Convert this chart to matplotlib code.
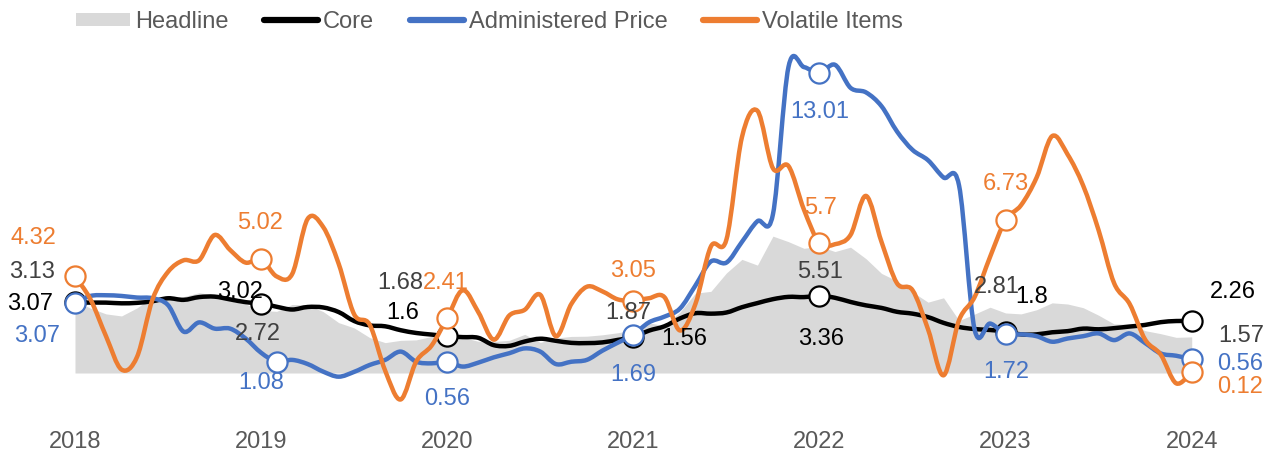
"""
Inflation by component (Headline, Core, Administered Price, Volatile Items), monthly, % yoy.
Writes out.png
"""

import matplotlib
matplotlib.use("Agg")
import matplotlib.pyplot as plt
from matplotlib.lines import Line2D
from matplotlib.patches import Patch, PathPatch
from matplotlib.path import Path

plt.rcParams["font.family"] = ["Liberation Sans", "DejaVu Sans"]

# ---- data (one value per month, first point = "2018" tick) ----
YEAR_LABELS = ["2018", "2019", "2020", "2021", "2022", "2023", "2024"]

headline = [3.13,
            2.82, 2.57, 2.48, 2.83, 3.32, 3.28, 3.32, 3.49, 3.39, 3.13, 3.00, 2.72,
            2.68, 2.98, 2.96, 2.67, 2.19, 1.96, 1.54, 1.32, 1.42, 1.44, 1.59, 1.68,
            1.55, 1.38, 1.37, 1.42, 1.68, 1.33, 1.52, 1.59, 1.60, 1.66, 1.75, 1.87,
            2.18, 2.06, 2.64, 3.47, 3.55, 4.35, 4.94, 4.69, 5.95, 5.71, 5.42, 5.51,
            5.28, 5.47, 4.97, 4.33, 4.00, 3.52, 3.08, 3.27, 2.28, 2.56, 2.86, 2.61,
            2.57, 2.75, 3.05, 3.00, 2.84, 2.51, 2.13, 2.12, 1.84, 1.71, 1.55, 1.57]

core = [3.07,
        3.06, 3.06, 3.03, 3.05, 3.12, 3.25, 3.18, 3.30, 3.32, 3.20, 3.08, 3.02,
        2.88, 2.76, 2.87, 2.85, 2.65, 2.26, 2.07, 2.03, 1.86, 1.74, 1.67, 1.60,
        1.56, 1.53, 1.21, 1.18, 1.37, 1.49, 1.40, 1.31, 1.30, 1.33, 1.44, 1.56,
        1.84, 2.03, 2.37, 2.60, 2.58, 2.63, 2.86, 3.04, 3.21, 3.31, 3.30, 3.36,
        3.27, 3.09, 2.94, 2.83, 2.66, 2.58, 2.43, 2.18, 2.00, 1.91, 1.87, 1.80,
        1.68, 1.68, 1.77, 1.82, 1.93, 1.90, 1.95, 2.02, 2.09, 2.21, 2.26, 2.26]

administered = [3.05,
                3.35, 3.38, 3.35, 3.28, 3.25, 2.95, 1.80, 2.20, 1.93, 1.93, 1.50, 0.88,
                0.49, 0.57, 0.39, 0.06, -0.16, 0.05, 0.35, 0.57, 0.93, 0.49, 0.42, 0.49,
                0.28, 0.45, 0.68, 0.86, 1.07, 0.93, 0.39, 0.49, 0.57, 0.97, 1.32, 1.67,
                2.20, 2.45, 2.80, 3.80, 4.85, 4.80, 5.70, 6.60, 6.90, 13.30, 13.30, 13.03,
                13.40, 12.40, 12.20, 11.60, 10.50, 9.70, 9.25, 8.50, 8.15, 1.90, 2.15, 1.68,
                1.68, 1.60, 1.36, 1.50, 1.60, 1.72, 1.43, 1.72, 1.30, 0.85, 0.75, 0.60]

volatile = [4.20,
            3.20, 1.60, 0.15, 0.70, 3.20, 4.40, 4.90, 4.90, 6.00, 5.35, 4.80, 4.95,
            4.20, 4.30, 6.70, 6.35, 4.75, 2.55, 2.10, 0.10, -1.15, 0.50, 1.20, 2.40,
            3.60, 2.65, 1.45, 2.50, 2.75, 3.40, 1.60, 3.00, 3.75, 3.55, 3.20, 3.15,
            3.25, 3.30, 1.85, 3.00, 5.50, 5.80, 10.25, 11.40, 8.90, 9.00, 7.10, 5.65,
            5.60, 6.00, 7.70, 5.70, 3.90, 3.60, 1.90, -0.10, 2.30, 3.30, 5.05, 6.65,
            7.30, 8.50, 10.30, 9.50, 8.15, 6.20, 3.90, 3.00, 1.45, 0.80, -0.45, 0.06]

# month index of the highlighted point for each year
marker_idx_core = [0, 12, 24, 36, 48, 60, 72]
marker_idx_admin = [0, 13, 24, 36, 48, 60, 72]
marker_idx_volatile = [0, 12, 24, 36, 48, 60, 72]

# texts of the data labels, as printed on the chart
labels_headline = ["3.13", "2.72", "1.68", "1.87", "5.51", "2.81", "1.57"]
labels_core = ["3.07", "3.02", "1.6", "1.56", "3.36", "1.8", "2.26"]
labels_admin = ["3.07", "1.08", "0.56", "1.69", "13.01", "1.72", "0.56"]
labels_volatile = ["4.32", "5.02", "2.41", "3.05", "5.7", "6.73", "0.12"]

# ---- styling / layout ----
C_HEAD = "#D9D9D9"
C_HEAD_TXT = "#404040"
C_CORE = "#000000"
C_ADMIN = "#4472C4"
C_VOL = "#ED7D31"
C_AXIS_TXT = "#595959"
FS = 17

# label offsets from their point, in pixels (dx, dy up)
off_headline = [(-43, 29), (-3, -24), (-47, 51), (-5, 17), (1, -26), (-9, 26), (50, 1)]
off_core = [(-45, -2), (-21, 12), (-45, 23), (51, -2), (2, -43), (26, 35), (41, 29)]
off_admin = [(-38, -33), (-15, -21), (0, -37), (0, -40), (0, -39), (1, -38), (48, -5)]
off_volatile = [(-42, 38), (-1, 36), (-1, 35), (0, 30), (1, 35), (0, 36), (48, -15)]


def smooth_path(xs, ys):
    """Excel-style 'smoothed line': cubic Bezier through every point."""
    n = len(xs)
    verts = [(xs[0], ys[0])]
    codes = [Path.MOVETO]
    for i in range(n - 1):
        i0 = max(i - 1, 0)
        i3 = min(i + 2, n - 1)
        c1 = (xs[i] + (xs[i + 1] - xs[i0]) / 6, ys[i] + (ys[i + 1] - ys[i0]) / 6)
        c2 = (xs[i + 1] - (xs[i3] - xs[i]) / 6, ys[i + 1] - (ys[i3] - ys[i]) / 6)
        verts += [c1, c2, (xs[i + 1], ys[i + 1])]
        codes += [Path.CURVE4] * 3
    return Path(verts, codes)


def main():
    fig = plt.figure(figsize=(12.81, 4.69), dpi=100)
    ax = fig.add_axes([0.02222, 0.10661, 0.96862, 0.80917])

    x = list(range(len(headline)))

    ax.fill_between(x, 0, headline, color=C_HEAD, linewidth=0, zorder=1)

    series = [
        (core, C_CORE, marker_idx_core),
        (administered, C_ADMIN, marker_idx_admin),
        (volatile, C_VOL, marker_idx_volatile),
    ]
    z = 2
    for vals, col, idx in series:
        ax.add_patch(PathPatch(smooth_path(x, vals), fill=False, edgecolor=col,
                               lw=3.2, joinstyle="round", capstyle="round", zorder=z))
        ax.plot(idx, [vals[i] for i in idx], ls="none", marker="o", ms=14.5,
                mfc="white", mec=col, mew=1.6, zorder=z + 0.5)
        z += 1

    def put_labels(vals, idx, texts, offs, col):
        for i, t, (dx, dy) in zip(idx, texts, offs):
            ax.annotate(t, (i, vals[i]), xytext=(dx, dy), textcoords="offset pixels",
                        ha="center", va="center", fontsize=FS, color=col, zorder=10)

    put_labels(headline, marker_idx_core, labels_headline, off_headline, C_HEAD_TXT)
    put_labels(core, marker_idx_core, labels_core, off_core, C_CORE)
    put_labels(administered, marker_idx_admin, labels_admin, off_admin, C_ADMIN)
    put_labels(volatile, marker_idx_volatile, labels_volatile, off_volatile, C_VOL)

    ax.set_xlim(-3, 77)
    ax.set_ylim(-2.0, 14.5)
    ax.set_xticks(marker_idx_core)
    ax.set_xticklabels(YEAR_LABELS)
    ax.set_yticks([])
    ax.tick_params(axis="x", length=0, pad=9, labelsize=FS, labelcolor=C_AXIS_TXT)
    for s in ax.spines.values():
        s.set_visible(False)

    handles = [
        Patch(facecolor=C_HEAD, edgecolor="none"),
        Line2D([], [], color=C_CORE, lw=4.5, solid_capstyle="round"),
        Line2D([], [], color=C_ADMIN, lw=4.5, solid_capstyle="round"),
        Line2D([], [], color=C_VOL, lw=4.5, solid_capstyle="round"),
    ]
    fig.legend(handles, ["Headline", "Core", "Administered Price", "Volatile Items"],
               loc="center left", bbox_to_anchor=(76 / 1281, 1 - 22 / 469),
               ncol=4, frameon=False, fontsize=FS, labelcolor=C_AXIS_TXT,
               handlelength=2.3, handleheight=0.5, handletextpad=0.2,
               columnspacing=1.5, borderpad=0, borderaxespad=0)

    fig.savefig("out.png", dpi=100)


if __name__ == "__main__":
    main()
